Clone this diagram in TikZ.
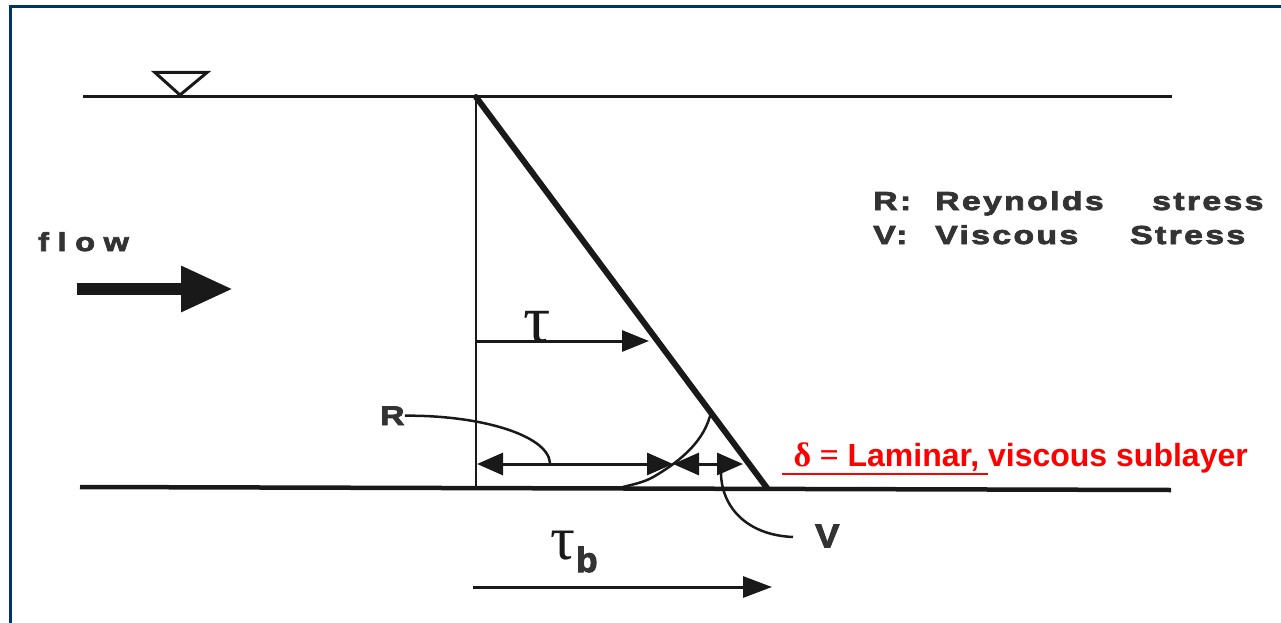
\documentclass[tikz,border=0pt]{standalone}
\usepackage{fontspec}
\setmainfont{Liberation Sans}
\newfontfamily\greekfont{Liberation Serif}
\usepackage{xcolor}
\usepackage{tikz}
\usetikzlibrary{arrows.meta, calc}
\definecolor{frameblue}{RGB}{0,51,102}

\begin{document}
\begin{tikzpicture}[
    x=1pt, y=-1pt,
    frame/.style={line width=3pt, draw=frameblue},
    surface/.style={line width=3pt, draw=black!90},
    bedline/.style={line width=4.5pt, draw=black!90},
    wallline/.style={line width=2.2pt, draw=black!90},
    profile/.style={line width=6pt, draw=black!90},
    stress/.style={line width=3pt, draw=black!90, -{Triangle[length=27pt, width=21pt]}},
    twoway/.style={line width=3pt, draw=black!90, {Triangle[length=26pt, width=22pt]}-{Triangle[length=26pt, width=22pt]}},
    leader/.style={line width=2.5pt, draw=black!90},
    flowarrow/.style={line width=12pt, draw=black!90, -{Triangle[length=52pt, width=43pt]}},
    label/.style={inner sep=0pt, text=black!80, font=\bfseries\fontsize{27}{30}\selectfont\addfontfeature{FakeStretch=1.25, FakeBold=3}},
    legend/.style={inner sep=0pt, anchor=base west, text=black!80, font=\bfseries\fontsize{26}{30}\selectfont\addfontfeature{FakeStretch=1.3, FakeBold=3, LetterSpace=9}},
    greek/.style={inner sep=0pt, text=black!90, font=\greekfont\fontsize{68}{70}\selectfont},
    redlabel/.style={inner sep=0pt, text=red, font=\bfseries\fontsize{32}{36}\selectfont}
]
\useasboundingbox (0,0) rectangle (1281,623);

% Frame
\draw[frame] (10,623) -- (10,6.8) -- (1281,6.8);

% Channel
\coordinate (surfL) at (83,97);
\coordinate (surfR) at (1172,97);
\coordinate (bedL) at (80,487);
\coordinate (bedR) at (1171,490);
\coordinate (top) at (476,97);
\coordinate (wall) at (476,488);
\coordinate (toe) at (767,488);
\draw[surface] (surfL) -- (surfR);
\draw[surface] (155,72.5) -- (207,72.5) -- (180,95) -- cycle;
\draw[bedline] (bedL) -- (bedR);
\draw[wallline] (top) -- (wall);
\draw[profile, line cap=round] (top) -- (toe);

% Flow
\node[label, anchor=base west, font=\bfseries\fontsize{26}{30}\selectfont\addfontfeature{FakeStretch=1.25, FakeBold=3, LetterSpace=33}] (flow) at (38,251) {flow};
\coordinate (flowA) at (77,289);
\coordinate (flowB) at (233,289);
\draw[flowarrow] (flowA) -- (flowB);

% Legend
\node[legend] (legR) at (873,210) {\makebox[62pt][l]{R:}\makebox[217pt][l]{Reynolds}stress};
\node[legend] (legV) at (873,244) {\makebox[62pt][l]{V:}\makebox[195pt][l]{Viscous}Stress};

% Shear stress
\coordinate (tauA) at (477,341);
\coordinate (tauB) at (649,341);
\draw[stress] (tauA) -- (tauB);
\node[greek] (tau) at (537,327) {τ};

% Reynolds and viscous parts
\coordinate (wallR) at (477,464);
\coordinate (split) at (673,464);
\coordinate (edgeV) at (743,464);
\draw[twoway] (wallR) -- (split);
\draw[twoway] (split) -- (edgeV);
\draw[leader] (711,412) .. controls (705,440) and (682,460) .. (655,476)
    .. controls (645,482) and (635,484) .. (623,487);

\node[label, anchor=base west] (R) at (380,425) {R};
\draw[leader] (R.east) .. controls (480,415) and (548,435) .. (550,463);
\node[label, font=\bfseries\fontsize{33}{36}\selectfont\addfontfeature{FakeStretch=1.1, FakeBold=3}, anchor=west] (V) at (815,536) {V};
\draw[leader] ($(V.west)+(-22,1)$) .. controls (745,535) and (720,505) .. (721,470);

% Bed shear stress
\coordinate (tbA) at (473,587);
\coordinate (tbB) at (772,587);
\draw[stress, -{Triangle[length=29pt, width=21pt]}] (tbA) -- (tbB);
\node[greek, font=\greekfont\fontsize{62}{64}\selectfont] (taub) at (563,546) {τ};
\node[label, font=\bfseries\fontsize{35}{38}\selectfont\addfontfeature{FakeBold=3}, anchor=base west] at (576,572) {b};

% Sublayer
\node[redlabel, anchor=base east] (delta) at (1248,466) {{\greekfont\fontsize{34}{36}\selectfont δ = }Laminar, viscous sublayer};
\coordinate (ulA) at (782,474);
\coordinate (ulB) at (988,474);
\draw[red, line width=2pt] (ulA) -- (ulB);

\end{tikzpicture}
\end{document}
